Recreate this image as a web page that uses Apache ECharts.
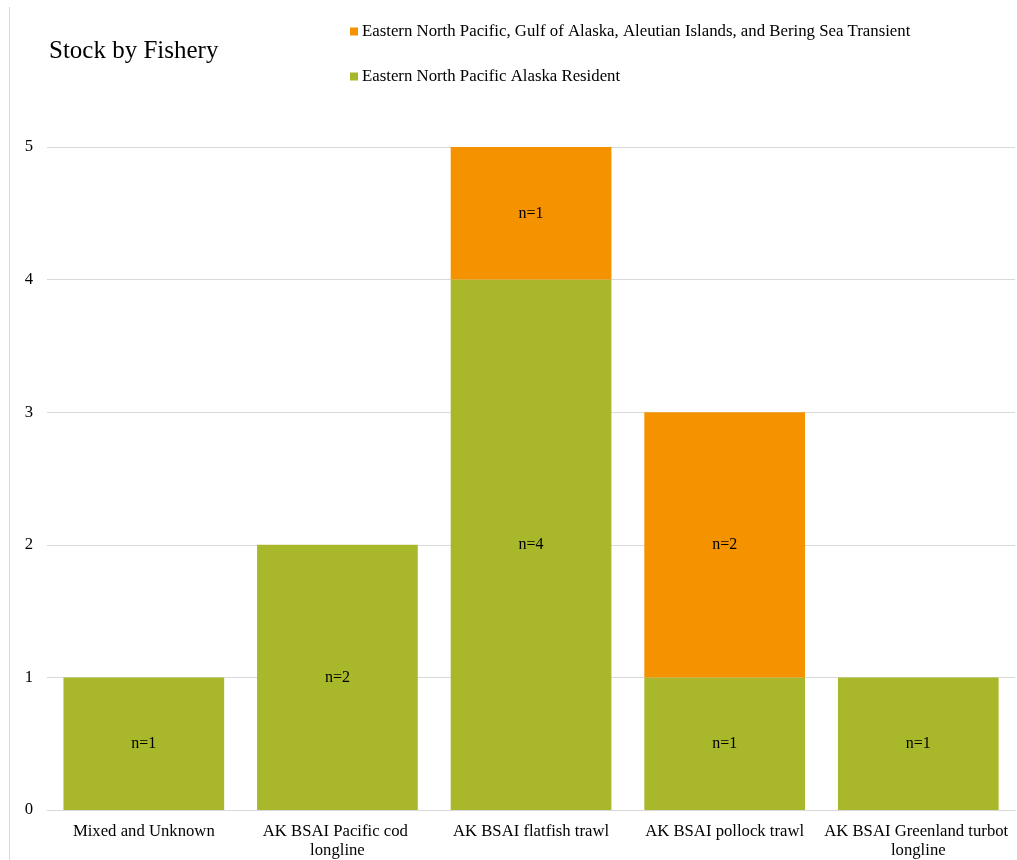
<!DOCTYPE html>
<html>
<head>
<meta charset="utf-8">
<script src="https://cdn.jsdelivr.net/npm/echarts@6/dist/echarts.min.js"></script>
<style>html,body{margin:0;padding:0;background:#fff;}#c{width:1017px;height:860px;}</style>
</head>
<body>
<div id="c"></div>
<script>
const categories = ['Mixed and Unknown', 'AK BSAI Pacific cod longline', 'AK BSAI flatfish trawl', 'AK BSAI pollock trawl', 'AK BSAI Greenland turbot longline'];
const residentName = 'Eastern North Pacific Alaska Resident';
const transientName = 'Eastern North Pacific, Gulf of Alaska, Aleutian Islands, and Bering Sea Transient';
const residentValues = [1, 2, 4, 1, 1];
const transientValues = [null, null, 1, 2, null];
const yTicks = [0, 1, 2, 3, 4, 5];

const FONT = "'Liberation Serif', 'Times New Roman', serif";
const chart = echarts.init(document.getElementById('c'), null, {renderer: 'canvas'});
const labelCfg = {show: true, position: 'inside', color: '#000', fontFamily: FONT, fontSize: 16,
  formatter: p => (p.value == null ? '' : 'n=' + p.value)};
chart.setOption({
  animation: false,
  backgroundColor: '#fff',
  textStyle: {fontFamily: FONT},
  title: {text: 'Stock by Fishery', left: 44, top: 34, textStyle: {fontFamily: FONT, fontSize: 25, fontWeight: 'normal', color: '#000'}},
  legend: {
    orient: 'vertical', left: 345, top: 18, itemGap: 28, itemWidth: 8, itemHeight: 8,
    icon: 'rect',
    data: [transientName, residentName],
    textStyle: {fontFamily: FONT, fontSize: 16.8, color: '#000', padding: [0, 0, 0, -1]}
  },
  graphic: [{type: 'line', shape: {x1: 9.5, y1: 7, x2: 9.5, y2: 860}, style: {stroke: '#d9d9d9', lineWidth: 1}}],
  grid: {left: 47, right: -1, top: 147, bottom: 49, containLabel: false},
  xAxis: {
    type: 'category', data: categories,
    axisLine: {show: true, lineStyle: {color: '#d9d9d9'}},
    axisTick: {show: false},
    axisLabel: {interval: 0, color: '#000', fontFamily: FONT, fontSize: 16.7, lineHeight: 19, margin: 12, width: 192, overflow: 'break'}
  },
  yAxis: {
    type: 'value', min: yTicks[0], max: yTicks[yTicks.length - 1], interval: 1,
    axisLine: {show: false}, axisTick: {show: false},
    splitLine: {lineStyle: {color: '#d9d9d9'}},
    axisLabel: {color: '#000', fontFamily: FONT, fontSize: 16.7, margin: 14}
  },
  series: [
    {name: residentName, type: 'bar', stack: 's', data: residentValues, barCategoryGap: '17%',
     itemStyle: {color: '#a8b82a'}, label: labelCfg},
    {name: transientName, type: 'bar', stack: 's', data: transientValues, barCategoryGap: '17%',
     itemStyle: {color: '#f59200'}, label: labelCfg}
  ]
});
</script>
</body>
</html>
